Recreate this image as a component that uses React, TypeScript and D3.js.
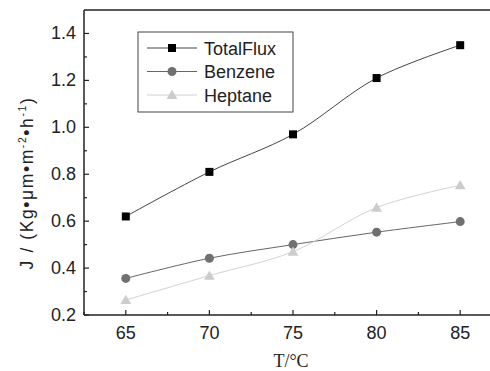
import React from "react";
import * as d3 from "d3";

const temps = [65, 70, 75, 80, 85];
const totalFlux = [0.62, 0.81, 0.97, 1.21, 1.35];
const benzene = [0.356, 0.442, 0.5, 0.553, 0.598];
const heptane = [0.264, 0.368, 0.47, 0.658, 0.753];
const xTicks = [65, 70, 75, 80, 85];
const yTicks = [0.2, 0.4, 0.6, 0.8, 1.0, 1.2, 1.4];
const seriesNames = ["TotalFlux", "Benzene", "Heptane"];

const W = 490, H = 371;
const left = 84, top = 10, right = 502, bottom = 315;

export default function App() {
  const x = d3.scaleLinear().domain([62.5, 87.5]).range([left, right]);
  const y = d3.scaleLinear().domain([0.2, 1.5]).range([bottom, top]);
  const series = [
    { name: seriesNames[0], vals: totalFlux, line: "#444", fill: "#000", shape: "square" },
    { name: seriesNames[1], vals: benzene, line: "#666", fill: "#707070", shape: "circle" },
    { name: seriesNames[2], vals: heptane, line: "#d2d2d2", fill: "#cccccc", shape: "triangle" },
  ];
  const lineGen = d3
    .line<[number, number]>()
    .x((d) => x(d[0]))
    .y((d) => y(d[1]))
    .curve(d3.curveCatmullRom.alpha(0.5));

  const marker = (shape: string, cx: number, cy: number, fill: string, key?: string) => {
    if (shape === "square")
      return <rect key={key} x={cx - 4} y={cy - 4} width={8} height={8} fill={fill} />;
    if (shape === "circle") return <circle key={key} cx={cx} cy={cy} r={4.5} fill={fill} />;
    const s = d3.symbol(d3.symbolTriangle, 50)();
    return <path key={key} d={s || ""} transform={`translate(${cx},${cy + 1})`} fill={fill} />;
  };

  const minorX = d3.range(62.5, 87.6, 2.5).filter((v) => !xTicks.includes(v));
  const minorY = d3.range(0.3, 1.5, 0.2);

  const font = "Arial, 'Liberation Sans', sans-serif";

  return (
    <svg width={W} height={H} style={{ position: "absolute", left: 0, top: 0, background: "#fff" }}>
      <defs>
        <clipPath id="clip">
          <rect x={0} y={0} width={W} height={H} />
        </clipPath>
      </defs>
      <rect x={0} y={0} width={W} height={H} fill="#fff" />
      <line x1={left} x2={W} y1={top} y2={top} stroke="#222" strokeWidth={1.5} />
      <line x1={left} x2={left} y1={top} y2={bottom} stroke="#222" strokeWidth={1.5} />
      <line x1={left} x2={W} y1={bottom} y2={bottom} stroke="#222" strokeWidth={1.5} />
      {xTicks.map((t) => (
        <g key={"xt" + t}>
          <line x1={x(t)} x2={x(t)} y1={bottom} y2={bottom - 5} stroke="#222" strokeWidth={1.2} />
          <text x={x(t)} y={bottom + 24} textAnchor="middle" fontFamily={font} fontSize={18} fill="#222">
            {t}
          </text>
        </g>
      ))}
      {minorX.map((t) => (
        <line key={"mx" + t} x1={x(t)} x2={x(t)} y1={bottom} y2={bottom - 3} stroke="#222" strokeWidth={1.2} />
      ))}
      {yTicks.map((t) => (
        <g key={"yt" + t}>
          <line x1={left} x2={left + 5} y1={y(t)} y2={y(t)} stroke="#222" strokeWidth={1.2} />
          <text x={left - 8} y={y(t) + 6} textAnchor="end" fontFamily={font} fontSize={18} fill="#222">
            {t.toFixed(1)}
          </text>
        </g>
      ))}
      {minorY.map((t) => (
        <line key={"my" + t} x1={left} x2={left + 3} y1={y(t)} y2={y(t)} stroke="#222" strokeWidth={1.2} />
      ))}
      <g clipPath="url(#clip)">
        {series.map((s) => (
          <g key={s.name}>
            <path
              d={lineGen(temps.map((t, i) => [t, s.vals[i]] as [number, number])) || ""}
              fill="none"
              stroke={s.line}
              strokeWidth={1}
            />
            {temps.map((t, i) => marker(s.shape, x(t), y(s.vals[i]), s.fill, s.name + i))}
          </g>
        ))}
      </g>
      <rect x={138} y={32} width={155} height={80} fill="#fff" stroke="#444" strokeWidth={1} />
      {series.map((s, i) => {
        const ly = 48 + i * 23.5;
        return (
          <g key={"lg" + s.name}>
            <line x1={147} x2={197} y1={ly} y2={ly} stroke={s.line} strokeWidth={1} />
            {marker(s.shape, 172, ly, s.fill)}
            <text x={204} y={ly + 6.5} fontFamily={font} fontSize={18} fill="#222">
              {s.name}
            </text>
          </g>
        );
      })}
      <text x={291} y={367} textAnchor="middle" fontFamily="'Times New Roman', 'Liberation Serif', serif" fontSize={18} fill="#222">
        T/°C
      </text>
      <text
        transform={`translate(33,${183}) rotate(-90)`}
        textAnchor="middle"
        fontFamily={font}
        fontSize={17.5}
        letterSpacing={1.6}
        fill="#222"
      >
        J / (Kg•μm•m
        <tspan dy={-7} fontSize={10.5}>-2</tspan>
        <tspan dy={7}>•h</tspan>
        <tspan dy={-7} fontSize={10.5}>-1</tspan>
        <tspan dy={7}>)</tspan>
      </text>
    </svg>
  );
}
